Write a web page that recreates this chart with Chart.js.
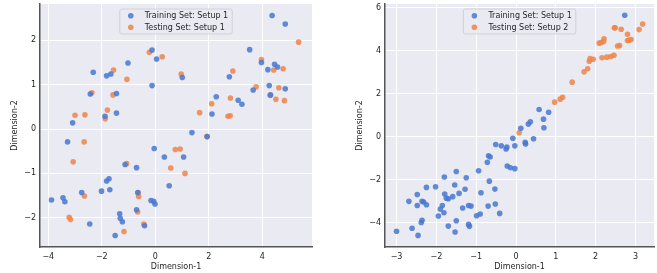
<!doctype html>
<html><head><meta charset="utf-8">
<script src="https://cdn.jsdelivr.net/npm/chart.js@4"></script>
<style>
  body { margin: 0; background: #fff; }
  .panel { position: absolute; top: 0; }
</style>
</head><body>
<div class="panel" style="left:0"><canvas id="left" width="320" height="273"></canvas></div>
<div class="panel" style="left:345px"><canvas id="right" width="312" height="273"></canvas></div>
<script>
// left panel: setup 1 vs setup 1
const leftTrainX = [4.37, 4.86, -0.12, 0.05, -1.02, -2.32, -1.82, -1.66, -0.12, 1.01, 3.53, 3.97, 4.21, 4.46, 4.57, 4.26, 4.86, 4.31, 3.66, 2.77, 2.28, 3.10, 3.24, 2.12, -2.43, -1.45, -1.88, -1.45, -3.09, 1.37, 1.94, -3.28, -0.04, 0.34, 1.06, -1.13, -0.70, 0.52, -1.73, -1.82, -2.01, -1.70, -2.75, -3.45, -3.38, -3.88, -0.65, -0.16, -0.06, -0.01, -0.70, -1.33, -1.31, -1.23, -2.45, -0.40, -1.50];
const leftTrainY = [2.56, 2.37, 1.78, 1.58, 1.49, 1.28, 1.20, 1.24, 0.98, 1.16, 1.79, 1.50, 1.34, 1.46, 1.40, 0.98, 0.91, 0.77, 0.88, 1.18, 0.73, 0.65, 0.56, 0.34, 0.79, 0.80, 0.29, 0.36, 0.14, -0.08, -0.17, -0.29, -0.44, -0.63, -0.63, -0.80, -0.87, -1.28, -1.12, -1.17, -1.40, -1.37, -1.43, -1.55, -1.64, -1.60, -1.43, -1.61, -1.63, -1.69, -1.82, -1.91, -2.01, -2.09, -2.14, -2.18, -2.40];
const leftTestX = [5.36, -0.22, 0.26, -1.56, -1.06, 0.97, 2.90, 3.97, 4.43, 4.78, 3.77, 4.62, 4.29, 4.51, 4.83, 2.81, 2.72, 2.80, 2.11, 1.66, -2.37, -1.58, -1.79, -1.87, -2.63, -3.00, 1.93, -2.66, -3.07, -1.07, 0.75, 0.93, 0.58, 1.11, -0.65, -0.62, -2.65, -0.66, -3.22, -3.17, -0.43, -1.17];
const leftTestY = [1.96, 1.73, 1.63, 1.33, 1.12, 1.24, 1.31, 1.57, 1.33, 1.36, 0.95, 0.93, 0.76, 0.67, 0.64, 0.70, 0.29, 0.30, 0.57, 0.37, 0.82, 0.77, 0.43, 0.23, 0.32, 0.31, -0.17, -0.29, -0.74, -0.78, -0.46, -0.45, -0.88, -1.00, -1.44, -1.52, -1.51, -1.87, -1.99, -2.04, -2.14, -2.31];

// right panel: setup 1 vs setup 2
const rightTrainX = [2.73, 0.58, 0.82, 0.69, 0.12, 0.31, 0.36, 0.70, -0.08, 0.44, -0.51, -0.37, -0.23, -0.25, -0.03, 0.23, 0.24, -0.69, -0.65, -0.72, -0.22, -0.14, -0.03, -0.94, -1.50, -1.80, -1.25, -0.67, -2.02, -2.25, -1.54, -1.28, -0.53, -2.48, -1.79, -1.43, -0.88, -1.59, -1.70, -1.75, -2.69, -2.36, -2.32, -2.48, -2.25, -1.85, -1.90, -1.81, -1.34, -1.19, -1.13, -0.70, -0.52, -0.41, -0.90, -0.99, -1.95, -2.38, -2.36, -1.50, -1.70, -1.19, -1.17, -1.53, -3.00, -2.61, -2.46];
const rightTrainY = [5.65, 1.27, 1.14, 0.82, 0.40, 0.59, 0.70, 0.42, -0.07, -0.09, -0.36, -0.42, -0.48, -0.57, -0.42, -0.26, -0.34, -0.88, -0.94, -1.18, -1.36, -1.44, -1.48, -1.58, -1.61, -1.87, -1.90, -2.06, -2.32, -2.35, -2.24, -2.44, -2.43, -2.68, -2.66, -2.63, -2.60, -2.78, -2.88, -2.85, -3.00, -3.00, -3.03, -3.19, -3.16, -3.19, -3.36, -3.53, -3.31, -3.19, -3.22, -3.22, -3.12, -3.56, -3.59, -3.67, -3.68, -3.98, -3.88, -3.90, -4.15, -4.07, -4.16, -4.42, -4.39, -4.25, -4.58];
const rightTestX = [3.18, 3.09, 2.49, 2.47, 2.64, 2.80, 2.89, 2.84, 2.80, 2.60, 2.55, 2.21, 2.20, 2.09, 2.14, 2.46, 2.38, 2.28, 2.16, 1.94, 1.86, 1.84, 1.80, 1.71, 1.41, 1.17, 1.11, 0.97, 0.08];
const rightTestY = [5.24, 4.98, 5.07, 5.06, 5.00, 4.76, 4.52, 4.48, 4.47, 4.24, 4.22, 4.55, 4.43, 4.35, 4.38, 3.79, 3.73, 3.70, 3.67, 3.60, 3.63, 3.51, 3.16, 3.02, 2.54, 1.84, 1.75, 1.61, 0.19];

const leftXTicks = [-4, -2, 0, 2, 4];
const leftYTicks = [-2, -1, 0, 1, 2];
const rightXTicks = [-3, -2, -1, 0, 1, 2, 3];
const rightYTicks = [-4, -2, 0, 2, 4, 6];

const BLUE = 'rgba(72,120,208,0.85)';
const ORANGE = 'rgba(238,133,74,0.85)';
const TEXT = '#262626';
const FONT = { family: 'DejaVu Sans', size: 8 };

function pts(xs, ys) {
  return xs.map((x, i) => ({ x: x, y: ys[i] }));
}

function fmt(v) {
  return v < 0 ? '\u2212' + Math.abs(v) : String(v);
}

// axes background (seaborn darkgrid)
const bgPlugin = {
  id: 'bg',
  beforeDraw(chart) {
    const { ctx, chartArea: a } = chart;
    ctx.save();
    ctx.fillStyle = '#eaeaf2';
    ctx.fillRect(a.left, a.top, a.right - a.left, a.bottom - a.top);
    ctx.restore();
  }
};

// legend drawn inside the axes, upper center
const innerLegend = {
  id: 'innerLegend',
  afterDatasetsDraw(chart) {
    const { ctx, chartArea: a } = chart;
    const sets = chart.data.datasets;
    ctx.save();
    ctx.font = '8px "DejaVu Sans"';
    const tw = Math.max(...sets.map(d => ctx.measureText(d.label).width));
    const w = 25 + tw + 4, h = 25;
    const x = (a.left + a.right) / 2 - w / 2, y = a.top + 5;
    ctx.fillStyle = 'rgba(234,234,242,0.8)';
    ctx.strokeStyle = '#cccccc';
    ctx.lineWidth = 0.8;
    ctx.beginPath();
    ctx.roundRect(x, y, w, h, 2);
    ctx.fill();
    ctx.stroke();
    sets.forEach((d, i) => {
      const cy = y + 6.7 + i * 11.6;
      ctx.fillStyle = d.backgroundColor;
      ctx.beginPath();
      ctx.arc(x + 11, cy, 2.8, 0, Math.PI * 2);
      ctx.fill();
      ctx.fillStyle = TEXT;
      ctx.textBaseline = 'middle';
      ctx.fillText(d.label, x + 25, cy + 0.5);
    });
    ctx.restore();
  }
};

function axis(min, max, ticks, title, horizontal) {
  return {
    type: 'linear',
    min: min, max: max,
    afterBuildTicks: s => { s.ticks = ticks.map(v => ({ value: v })); },
    afterFit: s => {
      if (horizontal) { s.height = 26; s.paddingLeft = 0; s.paddingRight = 0; }
      else { s.width = 40; s.paddingTop = 0; s.paddingBottom = 0; }
    },
    ticks: { color: TEXT, font: FONT, padding: horizontal ? 5 : 4, callback: fmt },
    grid: { color: '#ffffff', lineWidth: 1, drawTicks: false },
    border: { display: true, color: '#555555', width: 1.5 },
    title: {
      display: true, text: title, color: TEXT, font: FONT,
      padding: horizontal ? { top: 0, bottom: 1 } : { top: 10, bottom: 0 }
    }
  };
}

function makeChart(id, trainLabel, testLabel, train, test, xr, yr, xt, yt, padRight) {
  return new Chart(document.getElementById(id), {
    type: 'scatter',
    data: {
      datasets: [
        { label: trainLabel, data: train, backgroundColor: BLUE, borderWidth: 0, pointRadius: 2.8, pointHoverRadius: 2.8 },
        { label: testLabel, data: test, backgroundColor: ORANGE, borderWidth: 0, pointRadius: 2.8, pointHoverRadius: 2.8 }
      ]
    },
    options: {
      responsive: false,
      animation: false,
      layout: { padding: { top: 4, right: padRight, left: 0, bottom: 0 } },
      scales: {
        x: axis(xr[0], xr[1], xt, 'Dimension-1', true),
        y: axis(yr[0], yr[1], yt, 'Dimension-2', false)
      },
      plugins: { legend: { display: false }, tooltip: { enabled: false } }
    },
    plugins: [bgPlugin, innerLegend]
  });
}

makeChart('left', 'Training Set: Setup 1', 'Testing Set: Setup 1',
  pts(leftTrainX, leftTrainY), pts(leftTestX, leftTestY),
  [-4.31, 5.86], [-2.66, 2.82], leftXTicks, leftYTicks, 8);

makeChart('right', 'Training Set: Setup 1', 'Testing Set: Setup 2',
  pts(rightTrainX, rightTrainY), pts(rightTestX, rightTestY),
  [-3.29, 3.47], [-5.12, 6.17], rightXTicks, rightYTicks, 2);
</script>
</body></html>
